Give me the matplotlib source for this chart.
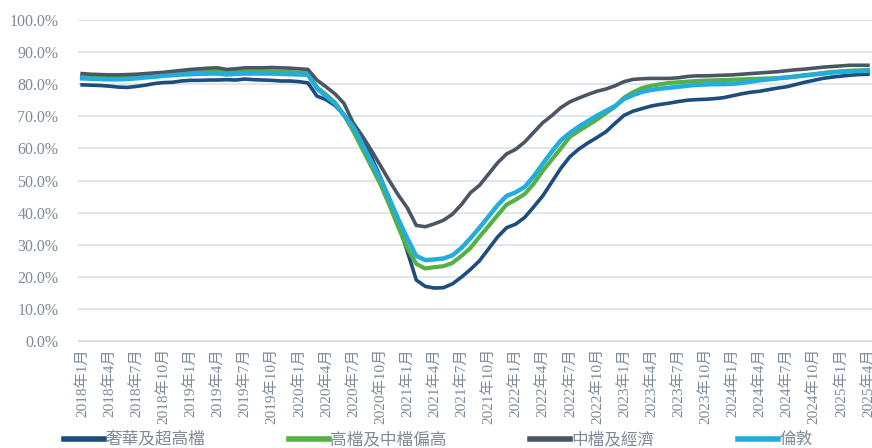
import matplotlib
matplotlib.use("Agg")
import matplotlib.pyplot as plt
import numpy as np

# monthly occupancy, 2018-01 .. 2025-04
years = range(2018, 2026)
months = ["%d年%d月" % (y, m) for y in years for m in range(1, 13)][:88]

luxury = [79.8, 79.7, 79.6, 79.4, 79.1, 79.0, 79.3, 79.7, 80.2, 80.5, 80.6, 81.0,
          81.2, 81.2, 81.3, 81.3, 81.4, 81.3, 81.6, 81.4, 81.3, 81.2, 81.0, 81.0,
          80.8, 80.4, 76.3, 75.2, 73.4, 70.4, 66.8, 62.5, 57.5, 51.2, 44.5, 36.5,
          28.0, 19.0, 17.0, 16.5, 16.6, 17.8, 19.9, 22.3, 25.0, 28.7, 32.4, 35.3,
          36.4, 38.5, 41.8, 45.2, 49.5, 53.8, 57.4, 59.8, 61.7, 63.4, 65.2, 67.8,
          70.3, 71.6, 72.4, 73.2, 73.7, 74.1, 74.6, 75.0, 75.2, 75.3, 75.5, 75.8,
          76.4, 77.0, 77.5, 77.8, 78.3, 78.8, 79.2, 79.9, 80.6, 81.2, 81.8, 82.2,
          82.5, 82.8, 83.0, 83.1]
upscale = [82.3, 82.2, 82.1, 82.0, 82.0, 82.1, 82.3, 82.6, 82.9, 83.1, 83.3, 83.5,
           83.7, 83.8, 83.9, 84.0, 83.6, 83.8, 84.0, 84.0, 84.0, 84.0, 83.9, 83.8,
           83.6, 83.4, 79.0, 76.8, 74.3, 70.3, 65.5, 60.0, 54.5, 49.0, 42.5, 35.5,
           29.0, 24.0, 22.6, 23.0, 23.3, 24.3, 26.5, 29.0, 32.5, 35.8, 39.2, 42.5,
           44.0, 45.8, 49.0, 53.0, 56.5, 60.0, 63.6, 65.5, 67.2, 69.0, 71.0, 73.0,
           75.8, 77.5, 78.8, 79.5, 80.0, 80.4, 80.6, 80.8, 81.0, 81.1, 81.2, 81.3,
           81.4, 81.5, 81.6, 81.7, 81.8, 81.9, 82.1, 82.4, 82.8, 83.1, 83.5, 83.8,
           84.0, 84.2, 84.3, 84.4]
midscale = [83.3, 83.1, 83.0, 82.9, 82.9, 83.0, 83.1, 83.3, 83.5, 83.7, 84.0, 84.3,
            84.6, 84.8, 85.0, 85.1, 84.6, 84.8, 85.1, 85.1, 85.1, 85.2, 85.1, 85.0,
            84.8, 84.6, 81.3, 79.2, 77.0, 74.0, 68.0, 64.0, 59.5, 54.8, 50.0, 45.5,
            41.5, 36.0, 35.6, 36.5, 37.6, 39.5, 42.5, 46.2, 48.5, 52.0, 55.5, 58.3,
            59.7, 62.0, 65.0, 68.0, 70.2, 72.7, 74.5, 75.7, 76.8, 77.8, 78.5, 79.5,
            80.8, 81.5, 81.7, 81.8, 81.8, 81.8, 82.0, 82.4, 82.6, 82.6, 82.7, 82.8,
            82.9, 83.1, 83.3, 83.5, 83.7, 83.9, 84.2, 84.5, 84.7, 85.0, 85.3, 85.5,
            85.7, 85.9, 85.9, 85.9]
london = [81.8, 81.7, 81.6, 81.5, 81.5, 81.6, 81.8, 82.1, 82.3, 82.6, 82.8, 83.0,
          83.1, 83.2, 83.3, 83.3, 83.0, 83.2, 83.3, 83.3, 83.3, 83.3, 83.2, 83.1,
          83.0, 82.9, 78.7, 76.3, 74.0, 70.4, 66.8, 61.5, 56.0, 50.7, 44.5, 38.0,
          32.0, 26.5, 25.2, 25.4, 25.7, 26.7, 29.0, 32.0, 35.3, 38.8, 42.3, 45.2,
          46.3, 48.0, 51.3, 55.2, 59.0, 62.5, 64.8, 66.8, 68.5, 70.2, 71.7, 73.2,
          75.4, 76.6, 77.6, 78.2, 78.6, 78.9, 79.2, 79.5, 79.8, 79.9, 80.0, 80.0,
          80.1, 80.4, 80.8, 81.2, 81.5, 81.8, 82.1, 82.4, 82.7, 83.0, 83.3, 83.6,
          83.8, 84.0, 84.1, 84.2]

labels = ["奢華及超高檔", "高檔及中檔偏高", "中檔及經濟", "倫敦"]
series = [luxury, upscale, midscale, london]
colors = ["#1c4d7e", "#55b047", "#4a5664", "#22addb"]
widths = [2.6, 3.0, 2.6, 3.2]

txt_color = "#7d8a97"
fam = ["Liberation Serif", "Noto Sans CJK TC"]

fig = plt.figure(figsize=(8.72, 4.48), dpi=100)
ax = fig.add_axes([78 / 872, 1 - 341 / 448, 1 - 78 / 872, (341 - 20) / 448])

x = np.arange(len(months))
for s, lab, c, w in zip(series, labels, colors, widths):
    ax.plot(x, s, color=c, lw=w, label=lab, solid_joinstyle="round")

ax.set_ylim(0, 100)
ax.set_xlim(-0.45, 87.45)
ax.set_yticks(np.arange(0, 101, 10))
ax.set_yticklabels(["%.1f%%" % v for v in np.arange(0, 101, 10)])
ax.set_xticks(x[::3])
ax.set_xticklabels(months[::3], rotation=90)
ax.grid(axis="y", color="#d9e0e7", lw=1.2)
ax.set_axisbelow(True)
for sp in ["top", "right", "left"]:
    ax.spines[sp].set_visible(False)
ax.spines["bottom"].set_color("#d0d8e0")
ax.tick_params(axis="both", length=0, colors=txt_color, labelsize=11.5)
ax.tick_params(axis="y", pad=14)
ax.tick_params(axis="x", pad=5, labelsize=11)
for t in ax.get_xticklabels() + ax.get_yticklabels():
    t.set_family(fam)

leg = fig.legend(loc="center", bbox_to_anchor=(0.503, 0.018), ncol=4, frameon=False,
                 handlelength=2.4, columnspacing=5.0, handletextpad=0.1,
                 prop={"family": ["Noto Sans CJK TC"], "size": 12})
for t in leg.get_texts():
    t.set_color(txt_color)
for h in leg.get_lines():
    h.set_linewidth(4)

fig.savefig("out.png", dpi=100)
